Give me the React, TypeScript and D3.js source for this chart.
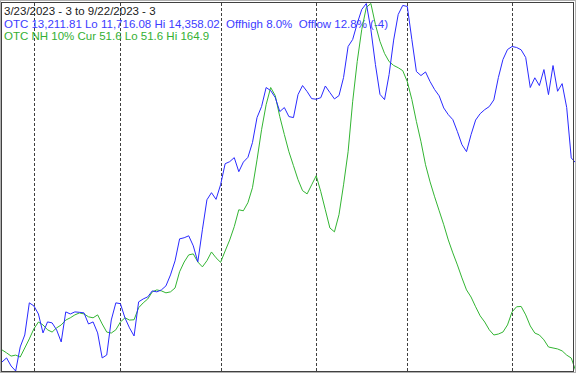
import React from "react";
import * as d3 from "d3";

const W = 576;
const H = 373;

const titleText = "3/23/2023 - 3 to 9/22/2023 - 3";
const otcLabel = "OTC 13,211.81 Lo 11,716.08 Hi 14,358.02  Offhigh 8.0%  Offlow 12.8% (-4)";
const nhLabel = "OTC NH 10% Cur 51.6 Lo 51.6 Hi 164.9";

const otcLo = 11716.08;
const otcHi = 14358.02;
const nhLo = 51.6;
const nhHi = 164.9;

// trading-day index of each month start (Apr, May, Jun, Jul, Aug, Sep)
const monthStartIdx = [7, 26, 48, 69, 89, 112];

const otc = [
  11781, 11810, 11752, 11716.08, 11889, 11975, 12206, 12184, 12126, 11990,
  12069, 12062, 12011, 11925, 12141, 12126, 12141, 12138, 12134, 12054,
  12069, 11990, 11810, 11831, 12083, 12206, 12200, 12098, 12026, 11968,
  12213, 12234, 12249, 12292, 12285, 12299, 12328, 12407, 12508, 12666,
  12674, 12688, 12616, 12501, 12731, 12947, 12998, 12950, 13055, 13206,
  13221, 13250, 13149, 13218, 13252, 13358, 13538, 13617, 13754, 13732,
  13682, 13581, 13610, 13545, 13538, 13703, 13768, 13725, 13674, 13670,
  13681, 13765, 13718, 13672, 13696, 13826, 14049, 14099, 14214, 14315,
  14358.02, 14171, 13919, 13705, 13667, 13847, 14095, 14279, 14344, 14337,
  14099, 13869, 13840, 13866, 13797, 13739, 13694, 13607, 13559, 13523,
  13437, 13343, 13293, 13415, 13520, 13566, 13595, 13617, 13665, 13826,
  13955, 14027, 14049, 14042, 14025, 13970, 13754, 13824, 13768, 13883,
  13703, 13912, 13727, 13782, 13610, 13248, 13211.81,
];

const nh = [
  58.1, 57.2, 56.2, 56.5, 55.9, 58.7, 61.5, 64.6, 66.7, 65.8,
  64.3, 63.6, 64.9, 65.8, 67.3, 68.0, 68.9, 69.5, 69.2, 68.3,
  68.0, 68.9, 66.1, 63.6, 63.3, 64.3, 66.7, 68.0, 67.3, 67.4,
  71.1, 72.6, 73.8, 76.0, 76.6, 76.3, 75.7, 76.0, 77.2, 82.2,
  85.2, 87.4, 87.7, 85.2, 83.7, 85.6, 88.3, 86.5, 85.1, 88.6,
  92.0, 96.1, 101.3, 101.0, 103.5, 108.1, 116.7, 126.0, 133.7, 139.0,
  136.5, 130.0, 124.5, 119.2, 114.9, 110.6, 107.2, 106.2, 109.0, 111.8,
  106.9, 101.3, 95.7, 94.5, 99.8, 109.0, 119.2, 134.6, 147.0, 156.9,
  163.7, 164.9, 158.4, 153.2, 149.5, 147.0, 145.8, 145.1, 144.2, 140.8,
  135.3, 128.5, 122.3, 115.2, 109.9, 105.3, 101.0, 96.7, 92.0, 88.0,
  84.3, 80.3, 76.6, 74.4, 71.4, 68.6, 66.7, 64.3, 62.7, 63.0,
  63.6, 65.8, 69.8, 71.4, 71.5, 68.9, 65.5, 63.3, 62.7, 61.2,
  59.0, 58.7, 58.4, 57.8, 56.5, 55.6, 51.6,
];

export default function App() {
  const x = d3.scaleLinear().domain([0, otc.length - 1]).range([2, 575.8]);
  const yOtc = d3.scaleLinear().domain([otcLo, otcHi]).range([371, 3.5]);
  const yNh = d3.scaleLinear().domain([nhLo, nhHi]).range([371, 3.5]);

  const otcLine = d3
    .line<number>()
    .x((_, i) => x(i))
    .y((d) => yOtc(d));
  const nhLine = d3
    .line<number>()
    .x((_, i) => x(i))
    .y((d) => yNh(d));

  const font = "'Liberation Sans', Arial, sans-serif";

  return (
    <svg
      width={W}
      height={H}
      style={{ position: "absolute", left: 0, top: 0, background: "#fff" }}
    >
      <rect x={0} y={0} width={W} height={H} fill="#ffffff" />
      {monthStartIdx.map((m) => (
        <line
          key={m}
          x1={Math.round(x(m)) + 0.5}
          x2={Math.round(x(m)) + 0.5}
          y1={3}
          y2={371}
          stroke="#404040"
          strokeWidth={1}
          strokeDasharray="3,2"
        />
      ))}
      <g fontFamily={font} fontSize={11.5} xmlSpace="preserve" style={{ whiteSpace: "pre" }}>
        <text x={4} y={15} fill="#202020" xmlSpace="preserve">
          {titleText}
        </text>
        <text x={4} y={27.5} fill="#3c3cff" xmlSpace="preserve">
          {otcLabel}
        </text>
        <text x={4} y={40} fill="#33b033" xmlSpace="preserve">
          {nhLabel}
        </text>
      </g>
      <path d={nhLine(nh) || ""} fill="none" stroke="#33b533" strokeWidth={1} />
      <path d={otcLine(otc) || ""} fill="none" stroke="#2a2aff" strokeWidth={1} />
      <rect x={0.5} y={0.5} width={W - 1} height={H - 1} fill="none" stroke="#b0b0b0" />
      <rect x={1.5} y={2.5} width={572} height={369} fill="none" stroke="#404040" />
    </svg>
  );
}
